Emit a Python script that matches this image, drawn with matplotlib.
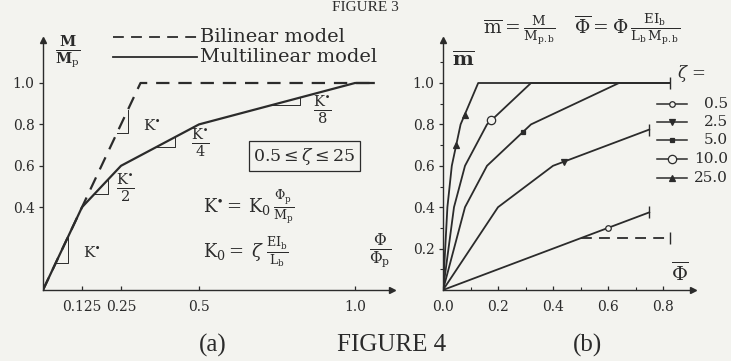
import matplotlib.pyplot as plt
import numpy as np

plt.rcParams['font.family'] = 'DejaVu Serif'
plt.rcParams['mathtext.fontset'] = 'dejavuserif'

ink = '#2b2b2b'
paper = '#f3f3ef'

# (a) normalised moment-curvature models
phi_bilinear = [0.0, 0.3125, 1.06]
m_bilinear = [0.0, 1.0, 1.0]
phi_multi = [0.0, 0.125, 0.25, 0.5, 1.0, 1.06]
m_multi = [0.0, 0.4, 0.6, 0.8, 1.0, 1.0]
a_xticks = [0.125, 0.25, 0.5, 1.0]
a_xlabels = ['0.125', '0.25', '0.5', '1.0']
a_yticks = [0.4, 0.6, 0.8, 1.0]

# (b) multilinear curves for several stiffness ratios zeta
zeta_labels = ['0.5', '2.5', '5.0', '10.0', '25.0']
phi_z = [
    [0.0, 0.5, 0.75],
    [0.0, 0.2, 0.4, 0.75],
    [0.0, 0.08, 0.16, 0.32, 0.64, 0.824],
    [0.0, 0.04, 0.08, 0.16, 0.32, 0.824],
    [0.0, 0.016, 0.032, 0.064, 0.128, 0.824],
]
m_z = [
    [0.0, 0.25, 0.375],
    [0.0, 0.4, 0.6, 0.775],
    [0.0, 0.4, 0.6, 0.8, 1.0, 1.0],
    [0.0, 0.4, 0.6, 0.8, 1.0, 1.0],
    [0.0, 0.4, 0.6, 0.8, 1.0, 1.0],
]
marker_phi = [[0.6], [0.44], [0.29], [0.176], [0.048, 0.079]]
markers = ['o', 'v', 's', 'o', '^']
marker_size = [4, 4.5, 3.5, 6, 4.5]
marker_fill = [paper, ink, ink, paper, ink]
# plateau of the bilinear model for zeta = 0.5
phi_z05_bilin = [0.5, 0.824]
m_z05_bilin = [0.25, 0.25]
b_xticks = [0.0, 0.2, 0.4, 0.6, 0.8]
b_yticks = [0.2, 0.4, 0.6, 0.8, 1.0]

W, H = 731, 361
fig = plt.figure(figsize=(W / 100, H / 100), dpi=100, facecolor=paper)


def place(x0, y0, sx, sy, xmax, ymax):
    # axes with data origin on pixel (x0, y0), sx / sy pixels per unit
    ax = fig.add_axes([x0 / W, (H - y0) / H, xmax * sx / W, ymax * sy / H])
    ax.set_xlim(0, xmax)
    ax.set_ylim(0, ymax)
    ax.set_facecolor('none')
    for side in ['top', 'right']:
        ax.spines[side].set_visible(False)
    for side in ['left', 'bottom']:
        ax.spines[side].set_color(ink)
        ax.spines[side].set_linewidth(1.0)
    ax.plot(1, 0, '>', color=ink, ms=5, transform=ax.transAxes, clip_on=False)
    ax.plot(0, 1, '^', color=ink, ms=5, transform=ax.transAxes, clip_on=False)
    ax.tick_params(colors=ink, labelsize=10, width=0.9)
    ax.tick_params(axis='x', direction='in', length=3, pad=7)
    ax.tick_params(axis='y', direction='out', length=3, pad=3)
    return ax


def slope_mark(ax, phis, ms, m0, phi1):
    # little right-angle marker under a segment
    phi0 = np.interp(m0, ms, phis)
    m1 = np.interp(phi1, phis, ms)
    ax.plot([phi0, phi1, phi1], [m0, m0, m1], color=ink, lw=0.7)


ax_a = place(43, 290, 312, 207, 1.12, 1.21)
ax_b = place(443, 290, 275, 207, 0.91, 1.21)

# ---- panel (a)
ax_a.plot(phi_bilinear, m_bilinear, color=ink, lw=1.6, dashes=(6, 4))
ax_a.plot(phi_multi, m_multi, color=ink, lw=1.6)
ax_a.set_xticks(a_xticks)
ax_a.set_xticklabels(a_xlabels)
ax_a.set_yticks(a_yticks)

slope_mark(ax_a, phi_multi[:2], m_multi[:2], 0.13, 0.08)
slope_mark(ax_a, phi_bilinear[:2], m_bilinear[:2], 0.758, 0.272)
slope_mark(ax_a, phi_multi[1:3], m_multi[1:3], 0.464, 0.208)
slope_mark(ax_a, phi_multi[2:4], m_multi[2:4], 0.69, 0.423)
slope_mark(ax_a, phi_multi[3:5], m_multi[3:5], 0.894, 0.824)

ks = r'\mathrm{K}^{\bullet}'
ax_a.text(0.157, 0.179, '$' + ks + '$', ha='center', va='center', fontsize=11, color=ink)
ax_a.text(0.349, 0.797, '$' + ks + '$', ha='center', va='center', fontsize=11, color=ink)
for phi, m, d in [(0.263, 0.493, 2), (0.503, 0.710, 4), (0.894, 0.870, 8)]:
    ax_a.text(phi, m, r'$\frac{%s}{%d}$' % (ks, d), ha='center', va='center',
              fontsize=15, color=ink)

ax_a.text(0.837, 0.647, r'$0.5 \leq \zeta \leq 25$', ha='center', va='center',
          fontsize=12.5, color=ink,
          bbox=dict(boxstyle='square,pad=0.25', fc='none', ec=ink, lw=0.9))
ax_a.text(0.513, 0.401,
          r'$\mathrm{K}^{\bullet}=\,\mathrm{K}_0\,\frac{\Phi_\mathrm{p}}{\mathrm{M}_\mathrm{p}}$',
          ha='left', va='center', fontsize=13, color=ink)
ax_a.text(0.513, 0.184,
          r'$\mathrm{K}_0=\;\zeta\;\frac{\mathrm{EI}_\mathrm{b}}{\mathrm{L}_\mathrm{b}}$',
          ha='left', va='center', fontsize=13, color=ink)
ax_a.text(1.08, 0.184, r'$\frac{\Phi}{\Phi_\mathrm{p}}$', ha='center', va='center',
          fontsize=16, color=ink, clip_on=False)
ax_a.text(0.08, 1.15, r'$\frac{\mathbf{M}}{\mathbf{M}_\mathrm{p}}$', ha='center', va='center',
          fontsize=15, color=ink, clip_on=False)

# key of panel (a)
ax_a.plot([0.224, 0.494], [1.222, 1.222], color=ink, lw=1.3, dashes=(6, 4), clip_on=False)
ax_a.plot([0.224, 0.494], [1.126, 1.126], color=ink, lw=1.3, clip_on=False)
ax_a.text(0.503, 1.222, 'Bilinear model', va='center', fontsize=14, color=ink)
ax_a.text(0.503, 1.126, 'Multilinear model', va='center', fontsize=14, color=ink)

# ---- panel (b)
for i in range(len(zeta_labels)):
    ax_b.plot(phi_z[i], m_z[i], color=ink, lw=1.3)
    mp = marker_phi[i]
    ax_b.plot(mp, np.interp(mp, phi_z[i], m_z[i]), ls='none', marker=markers[i],
              ms=marker_size[i], mfc=marker_fill[i], mec=ink, mew=0.9)
ax_b.plot(phi_z05_bilin, m_z05_bilin, color=ink, lw=1.3, dashes=(6, 4))

# end bars
ends_phi = [phi_z[0][-1], phi_z[1][-1], phi_z[2][-1], phi_z05_bilin[-1]]
ends_m = [m_z[0][-1], m_z[1][-1], m_z[2][-1], m_z05_bilin[-1]]
ax_b.plot(ends_phi, ends_m, ls='none', marker='|', ms=8, mew=1.0, color=ink, clip_on=False)

ax_b.set_xticks(b_xticks)
ax_b.set_xticklabels(['%.1f' % v for v in b_xticks])
ax_b.set_yticks(b_yticks)
ax_b.set_yticklabels(['%.1f' % v for v in b_yticks])
ax_b.set_xticks(np.arange(0.1, 0.9, 0.2), minor=True)
ax_b.set_yticks(np.arange(0.1, 1.2, 0.2), minor=True)
ax_b.tick_params(which='minor', colors=ink, length=2.5, width=0.8)
ax_b.tick_params(axis='x', which='minor', direction='in')

ax_b.text(0.073, 1.111, r'$\overline{\mathbf{m}}$', ha='center', va='center',
          fontsize=14, color=ink, clip_on=False)
ax_b.text(0.862, 0.082, r'$\overline{\Phi}$', ha='center', va='center',
          fontsize=14, color=ink)

# key of panel (b)
key_m = [0.899, 0.812, 0.725, 0.633, 0.541]
ax_b.text(0.85, 1.048, r'$\zeta\,=$', ha='left', va='center', fontsize=12, color=ink,
          clip_on=False)
for i in range(len(zeta_labels)):
    ax_b.plot([0.778, 0.887], [key_m[i], key_m[i]], color=ink, lw=1.1, clip_on=False)
    ax_b.plot(0.8325, key_m[i], marker=markers[i], ms=marker_size[i],
              mfc=marker_fill[i], mec=ink, mew=0.9, clip_on=False)
    ax_b.text(1.036, key_m[i], zeta_labels[i], ha='right', va='center',
              fontsize=11, color=ink, clip_on=False)

# definitions above panel (b)
fig.text(519 / W, 1 - 30 / H,
         r'$\overline{\mathrm{m}}=\frac{\mathrm{M}}{\mathrm{M}_{\mathrm{p.b}}}$',
         ha='center', va='center', fontsize=13.5, color=ink)
fig.text(627 / W, 1 - 30 / H,
         r'$\overline{\Phi}=\Phi\,\frac{\mathrm{EI}_\mathrm{b}}{\mathrm{L}_\mathrm{b}\,\mathrm{M}_{\mathrm{p.b}}}$',
         ha='center', va='center', fontsize=13.5, color=ink)

# captions
fig.text(365 / W, 1 - 1 / H, 'FIGURE 3', ha='center', va='top',
         family='Liberation Serif', fontsize=11, color=ink)
fig.text(213 / W, 1 - 345 / H, '(a)', ha='center', va='center',
         family='Liberation Serif', fontsize=18, color=ink)
fig.text(392 / W, 1 - 345 / H, 'FIGURE 4', ha='center', va='center',
         family='Liberation Serif', fontsize=18, color=ink)
fig.text(588 / W, 1 - 345 / H, '(b)', ha='center', va='center',
         family='Liberation Serif', fontsize=18, color=ink)

fig.savefig('out.png', dpi=100, facecolor=paper)
